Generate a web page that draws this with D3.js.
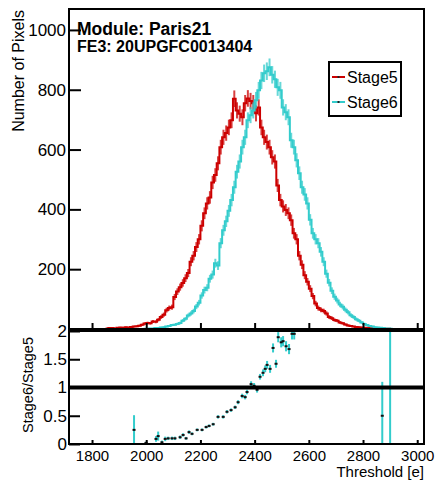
<!DOCTYPE html>
<html>
<head>
<meta charset="utf-8">
<script src="https://cdn.jsdelivr.net/npm/d3@7"></script>
<style>
body { margin: 0; background: #fff; }
text { font-family: "Liberation Sans", Arial, Helvetica, sans-serif; fill: #000; }
</style>
</head>
<body>
<svg id="c" width="437" height="481"></svg>
<script>
// Histogram bins (lower edges), width 10 e
var binW = 10;
var binStart = d3.range(1850, 2910, binW);

// Number of pixels per bin
var stage5 = [
  2, 3, 3, 2, 4, 5, 4, 6, 5, 7,
  8, 9, 11, 14, 18, 20, 19, 25, 24, 31,
  40, 48, 63, 70, 73, 107, 125, 140, 154, 170,
  187, 225, 245, 274, 300, 345, 387, 420, 440, 490,
  515, 554, 608, 641, 655, 674, 698, 770, 731, 720,
  708, 755, 771, 762, 755, 721, 741, 674, 641, 625,
  608, 574, 560, 480, 431, 410, 398, 387, 364, 320,
  300, 245, 215, 180, 158, 135, 110, 85, 70, 64,
  60, 52, 40, 36, 30, 28, 22, 19, 15, 12,
  10, 8, 7, 6, 5, 4, 4, 3, 3, 2,
  2, 1, 2, 1, 1, 0
];
var stage6 = [
  0, 0, 0, 0, 0, 0, 0, 0, 0, 0,
  0, 0, 0, 0, 1, 1, 2, 2, 3, 3,
  5, 6, 8, 10, 13, 14, 17, 20, 28, 34,
  45, 52, 60, 75, 88, 112, 130, 138, 168, 182,
  220, 212, 287, 330, 360, 395, 431, 474, 526, 560,
  608, 641, 698, 715, 731, 765, 798, 831, 855, 862,
  875, 850, 835, 808, 798, 741, 725, 708, 631, 608,
  564, 521, 474, 450, 420, 365, 320, 300, 287, 258,
  225, 185, 155, 128, 108, 95, 82, 74, 64, 56,
  46, 40, 33, 28, 22, 17, 13, 10, 8, 6,
  5, 4, 3, 2, 2, 1
];

// Ratio panel points (Stage6/Stage5)
var ratioX = [1955, 1999, 2036, 2044, 2058, 2070, 2081, 2095, 2106, 2125, 2136, 2147,
  2158, 2169, 2188, 2206, 2221, 2232, 2247, 2265, 2284, 2298, 2313, 2328, 2339,
  2354, 2365, 2372, 2387, 2398, 2409, 2420, 2431, 2439, 2446, 2457, 2468, 2479,
  2487, 2498, 2505, 2516, 2527, 2538, 2546, 2871, 2900];
var ratioY = [0.25, 0.02, 0.09, 0.14, 0.03, 0.09, 0.1, 0.1, 0.1, 0.12, 0.16, 0.1,
  0.21, 0.18, 0.25, 0.25, 0.3, 0.32, 0.35, 0.48, 0.48, 0.57, 0.6, 0.65, 0.74,
  0.85, 0.83, 0.92, 1.06, 1.03, 0.96, 1.19, 1.26, 1.33, 1.4, 1.33, 1.7, 1.42,
  1.89, 1.8, 1.82, 1.73, 1.68, 1.95, 1.95, 0.5, 3.0];
var ratioErr = [0.26, 0.02, 0.05, 0.08, 0.03, 0.04, 0.03, 0.03, 0.03, 0.03, 0.03, 0.025,
  0.03, 0.025, 0.025, 0.025, 0.025, 0.025, 0.025, 0.03, 0.03, 0.03, 0.03, 0.03, 0.035,
  0.04, 0.04, 0.04, 0.05, 0.05, 0.05, 0.05, 0.06, 0.06, 0.07, 0.07, 0.08, 0.07,
  0.09, 0.09, 0.09, 0.09, 0.09, 0.1, 0.1, 0.6, 3.0];

var yTicksTop = [200, 400, 600, 800, 1000];
var yTicksRatio = [0, 0.5, 1, 1.5, 2];
var xTicks = [1800, 2000, 2200, 2400, 2600, 2800, 3000];

var col5 = "#cc0000", col6 = "#33cccc";

// layout (pixel frame of the pads)
var L = 69, R = 424, T1 = 9, B1 = 329, T2 = 331, B2 = 444;

var svg = d3.select("#c");
svg.append("rect").attr("width", 437).attr("height", 481).attr("fill", "#fff");

var x = d3.scaleLinear().domain([1715, 3025]).range([L, R]);
var yTop = d3.scaleLinear().domain([0, 1070]).range([B1, T1]);
var yRat = d3.scaleLinear().domain([0, 2]).range([B2, T2]);

var defs = svg.append("defs");
defs.append("clipPath").attr("id", "clipTop").append("rect")
  .attr("x", L).attr("y", T1).attr("width", R - L).attr("height", B1 - T1);
defs.append("clipPath").attr("id", "clipBot").append("rect")
  .attr("x", L).attr("y", T2).attr("width", R - L).attr("height", B2 - T2);

// ---- top pad: histograms
function histo(vals, color) {
  var first = vals.findIndex(function(v) { return v > 0; });
  var pts = [];
  for (var i = first; i < vals.length; i++) pts.push([binStart[i], vals[i]]);
  pts.push([binStart[vals.length - 1] + binW, vals[vals.length - 1]]);

  var g = svg.append("g").attr("clip-path", "url(#clipTop)");
  // error bars sqrt(N)
  g.selectAll("line.err")
    .data(pts.slice(0, -1))
    .enter().append("line")
    .attr("x1", function(d) { return x(d[0] + binW / 2); })
    .attr("x2", function(d) { return x(d[0] + binW / 2); })
    .attr("y1", function(d) { return yTop(d[1] + Math.sqrt(d[1])); })
    .attr("y2", function(d) { return yTop(Math.max(0, d[1] - Math.sqrt(d[1]))); })
    .style("stroke", color).style("stroke-width", 2).style("opacity", 0.75);
  g.append("path")
    .attr("d", d3.line()
      .x(function(d) { return x(d[0]); })
      .y(function(d) { return yTop(d[1]); })
      .curve(d3.curveStepAfter)(pts))
    .style("fill", "none").style("stroke", color).style("stroke-width", 2);
}
histo(stage5, col5);
histo(stage6, col6);

// frame top
svg.append("rect").attr("x", L).attr("y", T1).attr("width", R - L).attr("height", B1 - T1)
  .style("fill", "none").style("stroke", "#000").style("stroke-width", 2);

// y axis top (ticks point inward)
var gy = svg.append("g").attr("transform", "translate(" + L + ",0)");
gy.call(d3.axisLeft(yTop).tickValues(d3.range(50, 1070, 50)).tickSize(-6).tickFormat(""));
gy.call(d3.axisLeft(yTop).tickValues(yTicksTop).tickSize(-12).tickPadding(3).tickFormat(d3.format("d")));
gy.select(".domain").remove();
gy.selectAll("line").style("stroke", "#000").style("stroke-width", 2);
gy.selectAll("text").style("font-size", "17px");

// x ticks on top pad (no labels)
var gx1 = svg.append("g").attr("transform", "translate(0," + B1 + ")");
gx1.call(d3.axisBottom(x).tickValues(d3.range(1750, 3025, 50)).tickSize(-3).tickFormat(""));
gx1.call(d3.axisBottom(x).tickValues(xTicks).tickSize(-6).tickFormat(""));
gx1.select(".domain").remove();
gx1.selectAll("line").style("stroke", "#000").style("stroke-width", 2);

svg.append("text").attr("transform", "translate(24," + 10 + ") rotate(-90)")
  .attr("text-anchor", "end").style("font-size", "16px").text("Number of Pixels");

svg.append("text").attr("x", 77).attr("y", 35).style("font-size", "17.5px")
  .style("font-weight", "bold").text("Module: Paris21");
svg.append("text").attr("x", 77).attr("y", 52).style("font-size", "16px")
  .style("font-weight", "bold").text("FE3: 20UPGFC0013404");

// legend
var leg = svg.append("g");
leg.append("rect").attr("x", 329).attr("y", 62).attr("width", 72).attr("height", 54)
  .style("fill", "#fff").style("stroke", "#000").style("stroke-width", 2);
[["Stage5", col5, 77], ["Stage6", col6, 102]].forEach(function(e) {
  leg.append("line").attr("x1", 332).attr("x2", 345).attr("y1", e[2]).attr("y2", e[2])
    .style("stroke", e[1]).style("stroke-width", 2);
  leg.append("rect").attr("x", 337.5).attr("y", e[2] - 1).attr("width", 2).attr("height", 2)
    .style("fill", "#222");
  leg.append("text").attr("x", 347).attr("y", e[2] + 6).style("font-size", "16px").text(e[0]);
});

// ---- bottom pad: ratio
var gr = svg.append("g").attr("clip-path", "url(#clipBot)");
gr.selectAll("line.rerr")
  .data(ratioX)
  .enter().append("line")
  .attr("x1", function(d) { return x(d); })
  .attr("x2", function(d) { return x(d); })
  .attr("y1", function(d, i) { return yRat(ratioY[i] + ratioErr[i]); })
  .attr("y2", function(d, i) { return yRat(Math.max(0, ratioY[i] - ratioErr[i])); })
  .style("stroke", col6).style("stroke-width", 2);
gr.selectAll("rect.pt")
  .data(ratioX)
  .enter().append("rect")
  .attr("x", function(d) { return x(d) - 1.5; })
  .attr("y", function(d, i) { return yRat(ratioY[i]) - 1; })
  .attr("width", 3).attr("height", 2)
  .style("fill", "#111");

// line at 1
svg.append("line").attr("x1", L).attr("x2", R).attr("y1", yRat(1)).attr("y2", yRat(1))
  .style("stroke", "#000").style("stroke-width", 4);

svg.append("rect").attr("x", L).attr("y", T2).attr("width", R - L).attr("height", B2 - T2)
  .style("fill", "none").style("stroke", "#000").style("stroke-width", 2);

var gy2 = svg.append("g").attr("transform", "translate(" + L + ",0)");
gy2.call(d3.axisLeft(yRat).tickValues(yTicksRatio).tickSize(-11).tickPadding(2).tickFormat(d3.format("~g")));
gy2.select(".domain").remove();
gy2.selectAll("line").style("stroke", "#000").style("stroke-width", 2);
gy2.selectAll("text").style("font-size", "17px");

var gx2 = svg.append("g").attr("transform", "translate(0," + B2 + ")");
gx2.call(d3.axisBottom(x).tickValues(d3.range(1750, 3025, 50)).tickSize(-2).tickFormat(""));
gx2.call(d3.axisBottom(x).tickValues(xTicks).tickSize(-4).tickPadding(6).tickFormat(d3.format("d")));
gx2.select(".domain").remove();
gx2.selectAll("line").style("stroke", "#000").style("stroke-width", 2);
gx2.selectAll("text").style("font-size", "15px");

svg.append("text").attr("transform", "translate(33,385) rotate(-90)")
  .attr("text-anchor", "middle").style("font-size", "14.5px").text("Stage6/Stage5");

svg.append("text").attr("x", R).attr("y", 477).attr("text-anchor", "end")
  .style("font-size", "15px").text("Threshold [e]");
</script>
</body>
</html>
